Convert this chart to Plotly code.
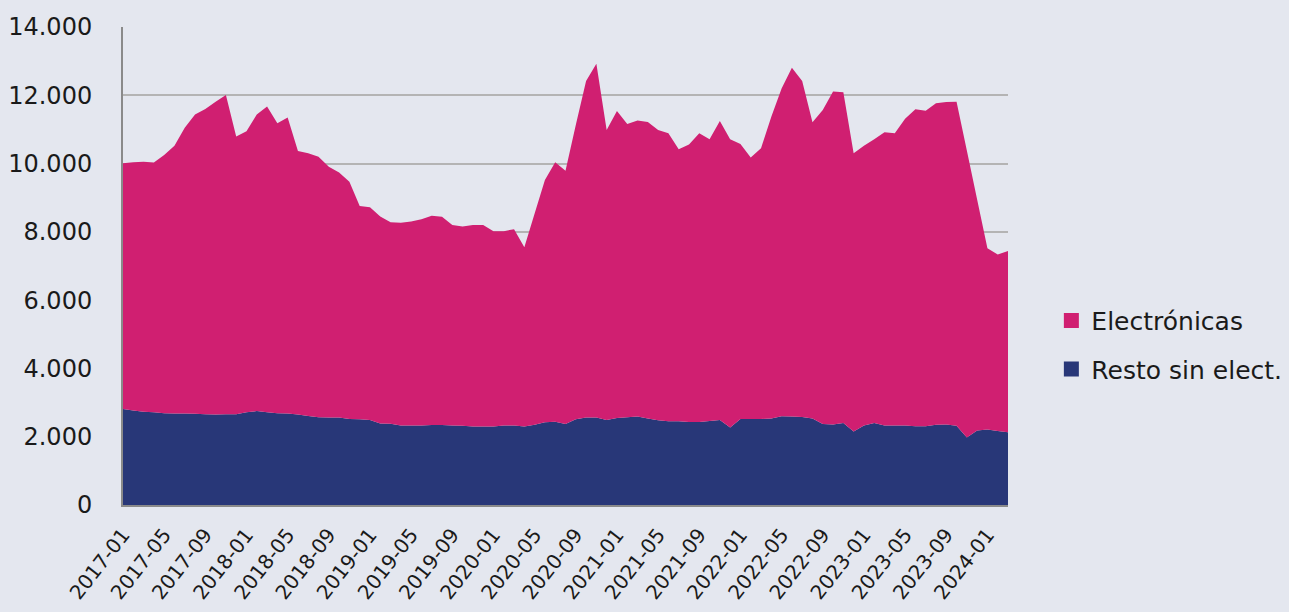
import plotly.graph_objects as go

months = [f"{y}-{m:02d}" for y in range(2017, 2025) for m in range(1, 13)][:87]

resto = [2810, 2770, 2730, 2720, 2690, 2680, 2680, 2670, 2660, 2650,
         2660, 2660, 2720, 2750, 2720, 2690, 2680, 2650, 2610, 2570,
         2560, 2560, 2520, 2510, 2490, 2390, 2380, 2330, 2330, 2330,
         2340, 2340, 2330, 2320, 2300, 2300, 2300, 2330, 2330, 2300,
         2350, 2420, 2440, 2370, 2510, 2560, 2560, 2490, 2550, 2570,
         2590, 2530, 2480, 2450, 2450, 2430, 2430, 2460, 2490, 2270,
         2520, 2520, 2520, 2530, 2600, 2590, 2580, 2530, 2370, 2360,
         2400, 2150, 2330, 2400, 2330, 2330, 2330, 2310, 2310, 2350,
         2360, 2320, 1980, 2180, 2210, 2170, 2130]

electronicas = [7200, 7270, 7320, 7310, 7560, 7840, 8370, 8770, 8940, 9160,
                9350, 8130, 8230, 8690, 8950, 8490, 8670, 7720, 7690, 7630,
                7350, 7180, 6950, 6250, 6230, 6060, 5900, 5940, 5970, 6040,
                6130, 6100, 5870, 5840, 5900, 5900, 5720, 5690, 5750, 5250,
                6190, 7100, 7600, 7420, 8620, 9860, 10360, 8490, 8990, 8590,
                8670, 8690, 8500, 8440, 7970, 8130, 8460, 8250, 8760, 8440,
                8050, 7660, 7930, 8840, 9600, 10220, 9840, 8680, 9200, 9750,
                9690, 8150, 8190, 8310, 8590, 8560, 8980, 9280, 9240, 9420,
                9440, 9490, 8400, 6770, 5310, 5170, 5310]

tick_labels = months[::4]
y_ticks = [0, 2000, 4000, 6000, 8000, 10000, 12000, 14000]

NAVY = "#283778"
PINK = "#D01F71"
BG = "#E4E7EF"
FONT = "DejaVu Sans"

fig = go.Figure()
fig.add_trace(go.Scatter(x=months, y=resto, stackgroup="one", mode="none",
                         fillcolor=NAVY, name="Resto sin elect.", showlegend=False))
fig.add_trace(go.Scatter(x=months, y=electronicas, stackgroup="one", mode="none",
                         fillcolor=PINK, name="Electrónicas", showlegend=False))
# legend entries
fig.add_trace(go.Scatter(x=[None], y=[None], mode="markers", name="Electrónicas",
                         marker=dict(symbol="square", size=15, color=PINK),
                         legendgroup="a"))
fig.add_trace(go.Scatter(x=[None], y=[None], mode="markers", name="Resto sin elect.",
                         marker=dict(symbol="square", size=15, color=NAVY),
                         legendgroup="b"))

fig.update_layout(
    width=1289, height=612,
    paper_bgcolor=BG, plot_bgcolor=BG,
    margin=dict(l=123, r=281, t=27, b=107, autoexpand=False),
    font=dict(family=FONT, color="#1a1a1a"),
    separators=",.",
    legend=dict(x=1.049, xanchor="left", y=0.335, yanchor="middle",
                font=dict(size=25, family=FONT), bgcolor="rgba(0,0,0,0)",
                tracegroupgap=13, traceorder="grouped"),
    showlegend=True,
)
fig.update_xaxes(type="category", categoryorder="array", categoryarray=months,
                 range=[0, len(months) - 1], tickmode="array", tickvals=tick_labels,
                 ticktext=tick_labels, tickangle=-52, tickfont=dict(size=20, family=FONT),
                 showgrid=False, showline=True, linecolor="#8a8a8a", linewidth=2,
                 ticks="", zeroline=False, ticklabelstandoff=8, automargin=False)
fig.update_yaxes(range=[0, 14000], tickmode="array", tickvals=y_ticks,
                 tickformat=",.0f", tickfont=dict(size=24, family=FONT),
                 showgrid=True, gridcolor="#B4B4B4", gridwidth=1.5,
                 showline=True, linecolor="#8a8a8a", linewidth=2,
                 ticks="", zeroline=False, ticklabelstandoff=24, automargin=False)

fig.write_html("out.html", config={"displayModeBar": False},
               post_script="document.body.style.margin='0';document.body.style.background='#E4E7EF';")
